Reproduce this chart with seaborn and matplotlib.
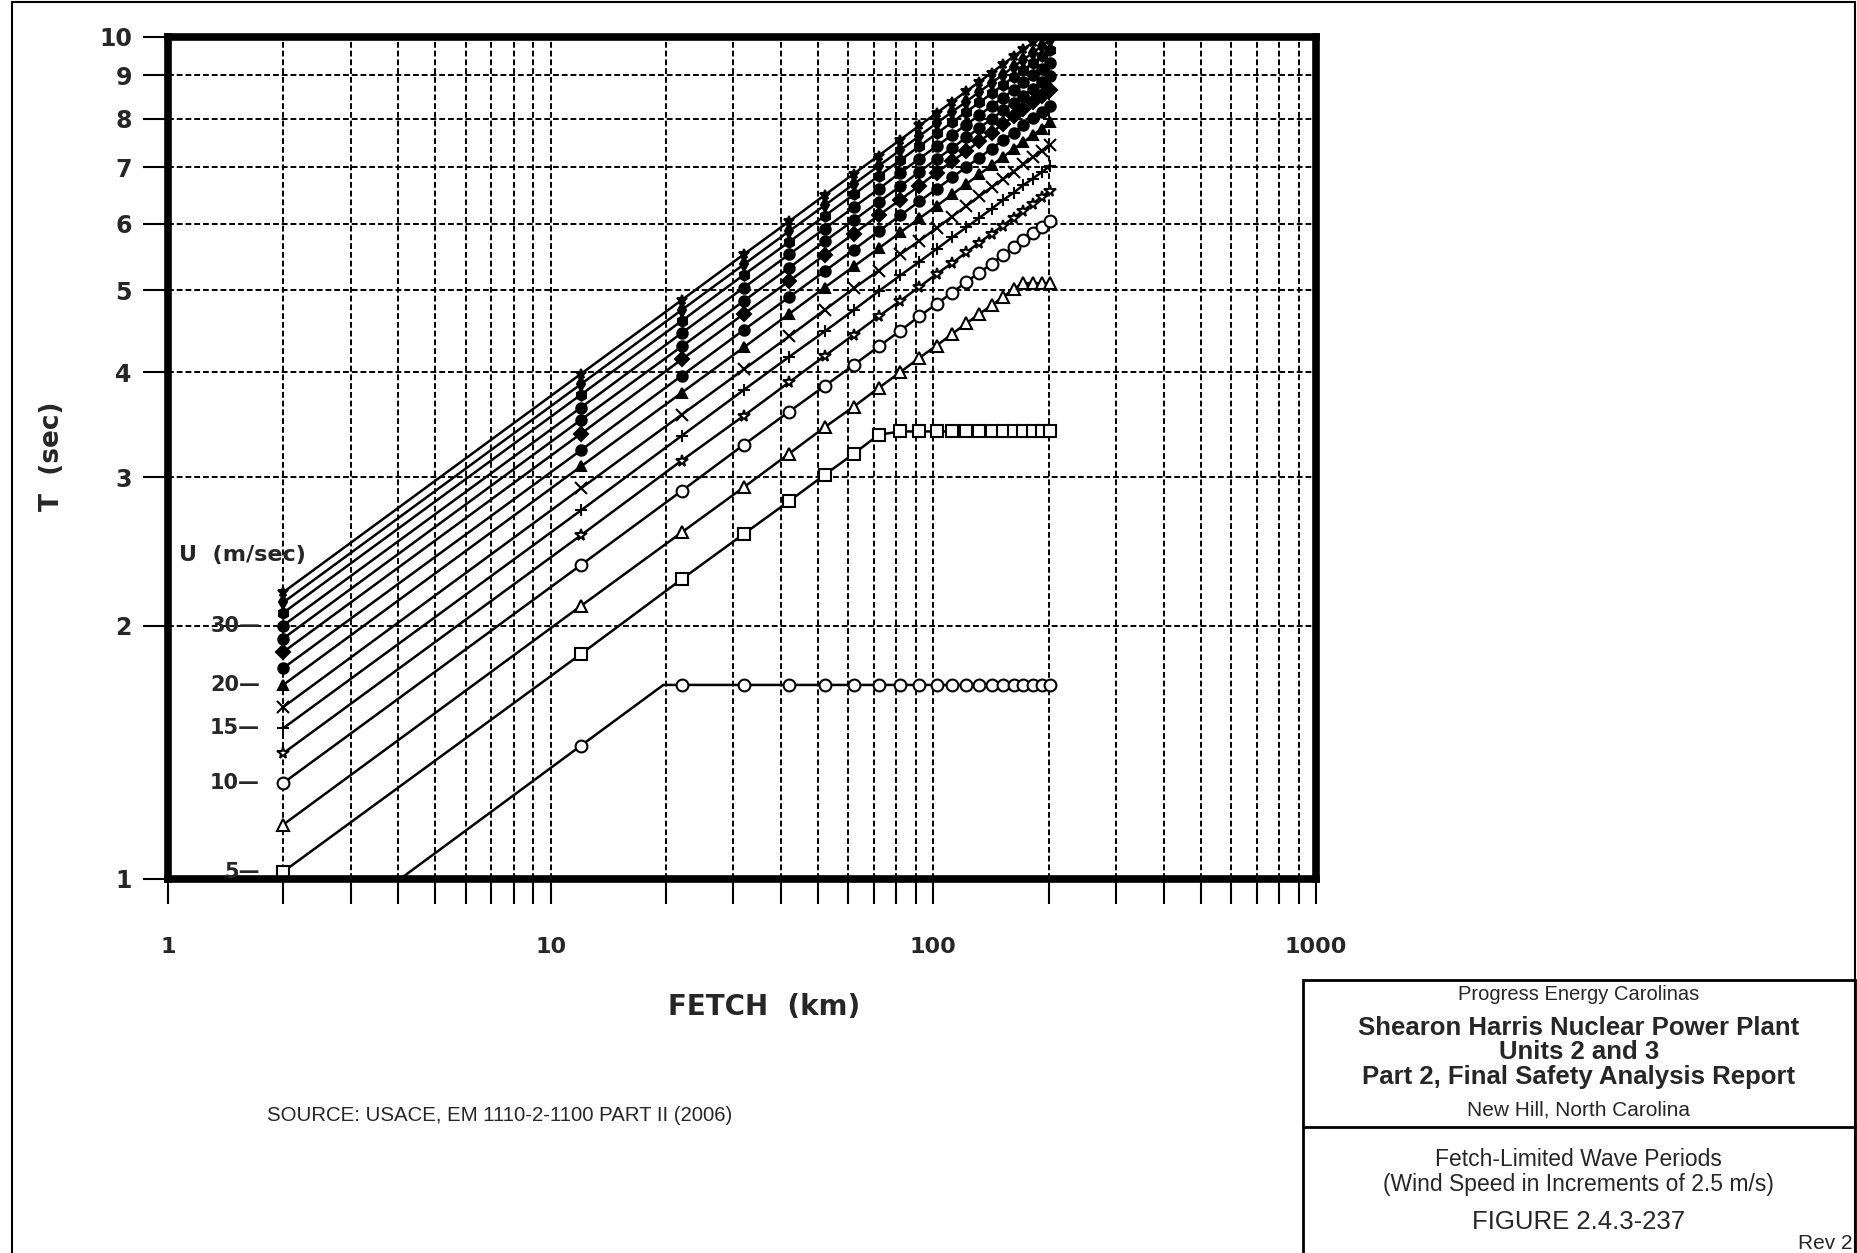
import numpy as np
import pandas as pd
import seaborn as sns
import matplotlib.pyplot as plt
from matplotlib import ticker
from matplotlib.patches import Rectangle
from matplotlib.lines import Line2D

# fetch positions of the computed points (km)
FETCH = [2, 12, 22, 32, 42, 52, 62, 72, 82, 92, 102, 112, 122, 132, 142, 152, 162, 172, 182, 192, 202]

# wind speeds (m/s), increments of 2.5
U_SPEEDS = [2.5, 5, 7.5, 10, 12.5, 15, 17.5, 20, 22.5, 25, 27.5, 30, 32.5, 35, 37.5]

# wave period T (sec), one list per wind speed
T_U2_5 = [0.79, 1.44, 1.70, 1.70, 1.70, 1.70, 1.70, 1.70, 1.70, 1.70, 1.70, 1.70, 1.70, 1.70, 1.70, 1.70, 1.70, 1.70, 1.70, 1.70, 1.70]
T_U5 = [1.02, 1.85, 2.27, 2.57, 2.81, 3.02, 3.20, 3.37, 3.40, 3.40, 3.40, 3.40, 3.40, 3.40, 3.40, 3.40, 3.40, 3.40, 3.40, 3.40, 3.40]
T_U7_5 = [1.16, 2.11, 2.58, 2.92, 3.20, 3.44, 3.64, 3.83, 4.00, 4.16, 4.30, 4.44, 4.57, 4.69, 4.80, 4.91, 5.02, 5.10, 5.10, 5.10, 5.10]
T_U10 = [1.30, 2.36, 2.89, 3.28, 3.59, 3.85, 4.08, 4.29, 4.48, 4.66, 4.82, 4.97, 5.12, 5.25, 5.38, 5.51, 5.63, 5.74, 5.85, 5.95, 6.05]
T_U12_5 = [1.41, 2.56, 3.14, 3.55, 3.89, 4.18, 4.43, 4.66, 4.86, 5.05, 5.23, 5.39, 5.55, 5.70, 5.84, 5.97, 6.10, 6.22, 6.34, 6.46, 6.57]
T_U15 = [1.51, 2.74, 3.36, 3.81, 4.17, 4.47, 4.74, 4.99, 5.21, 5.41, 5.60, 5.78, 5.94, 6.10, 6.25, 6.40, 6.53, 6.67, 6.79, 6.91, 7.03]
T_U17_5 = [1.60, 2.91, 3.56, 4.03, 4.41, 4.74, 5.03, 5.28, 5.52, 5.73, 5.93, 6.12, 6.30, 6.47, 6.63, 6.78, 6.92, 7.06, 7.20, 7.33, 7.45]
T_U20 = [1.70, 3.09, 3.78, 4.28, 4.69, 5.04, 5.34, 5.61, 5.86, 6.09, 6.30, 6.50, 6.69, 6.87, 7.04, 7.20, 7.36, 7.50, 7.65, 7.78, 7.92]
T_U22_5 = [1.78, 3.23, 3.96, 4.49, 4.91, 5.27, 5.59, 5.88, 6.14, 6.38, 6.60, 6.81, 7.01, 7.19, 7.37, 7.54, 7.70, 7.86, 8.01, 8.15, 8.29]
T_U25 = [1.86, 3.38, 4.14, 4.69, 5.13, 5.51, 5.84, 6.14, 6.41, 6.66, 6.90, 7.12, 7.32, 7.52, 7.70, 7.88, 8.05, 8.21, 8.37, 8.52, 8.66]
T_U27_5 = [1.93, 3.51, 4.29, 4.86, 5.32, 5.72, 6.06, 6.37, 6.65, 6.92, 7.16, 7.38, 7.60, 7.80, 7.99, 8.18, 8.35, 8.52, 8.68, 8.84, 8.99]
T_U30 = [2.00, 3.63, 4.45, 5.04, 5.52, 5.92, 6.28, 6.60, 6.90, 7.17, 7.42, 7.65, 7.87, 8.08, 8.28, 8.47, 8.65, 8.83, 9.00, 9.16, 9.31]
T_U32_5 = [2.07, 3.76, 4.60, 5.22, 5.71, 6.13, 6.50, 6.84, 7.14, 7.42, 7.68, 7.92, 8.15, 8.36, 8.57, 8.77, 8.96, 9.14, 9.31, 9.48, 9.64]
T_U35 = [2.13, 3.87, 4.74, 5.37, 5.88, 6.31, 6.69, 7.03, 7.34, 7.63, 7.90, 8.15, 8.38, 8.61, 8.82, 9.02, 9.22, 9.40, 9.58, 9.75, 9.92]
T_U37_5 = [2.19, 3.98, 4.87, 5.52, 6.04, 6.49, 6.88, 7.23, 7.55, 7.85, 8.12, 8.38, 8.62, 8.85, 9.07, 9.28, 9.48, 9.67, 9.85, 10.03, 10.20]

T_SERIES = [T_U2_5, T_U5, T_U7_5, T_U10, T_U12_5, T_U15, T_U17_5, T_U20,
            T_U22_5, T_U25, T_U27_5, T_U30, T_U32_5, T_U35, T_U37_5]

# where a curve levels off between two plotted points (no marker there)
KINK_U = [2.5]
KINK_FETCH = [19.7]
KINK_T = [1.70]

# wind speeds that get a label next to the first point
U_LABELED = [5, 10, 15, 20, 30]

X_TICKS = [1, 10, 100, 1000]
Y_TICKS = [1, 2, 3, 4, 5, 6, 7, 8, 9, 10]

MARKERS = ['o', 's', '^', 'o', '*', '+', 'x', '^', 'o', 'D', 'o', 'o', 'h', 'd', '*']
FILLED = [False, False, False, False, False, False, False, True, True, True, True, True, True, True, True]

rows = []
for u, ts in zip(U_SPEEDS, T_SERIES):
    for f, t in zip(FETCH, ts):
        rows.append((u, f, t, True))
for u, f, t in zip(KINK_U, KINK_FETCH, KINK_T):
    rows.append((u, f, t, False))
df = pd.DataFrame(rows, columns=['U', 'fetch', 'T', 'mark'])
df = df.sort_values(['U', 'fetch']).reset_index(drop=True)

sns.set_theme(style='white')
plt.rcParams['font.family'] = ['DejaVu Sans']

fig = plt.figure(figsize=(18.58, 12.53), dpi=100)
ax = fig.add_axes([0.0904, 0.2985, 0.6179, 0.672])

for u, m, filled in zip(U_SPEEDS, MARKERS, FILLED):
    sub = df[df['U'] == u].reset_index(drop=True)
    every = list(np.flatnonzero(sub['mark'].to_numpy()))
    sns.lineplot(data=sub, x='fetch', y='T', ax=ax, color='black', lw=1.8,
                 marker=m, markersize=7.5 if filled else 8.5, markevery=every,
                 markerfacecolor='black' if filled else 'white',
                 markeredgecolor='black', markeredgewidth=1.5, legend=False,
                 sort=False, estimator=None)

ax.set_xscale('log')
ax.set_yscale('log')
ax.set_xlim(1, 1000)
ax.set_ylim(1, 10)

ax.xaxis.set_major_locator(ticker.FixedLocator(X_TICKS))
ax.xaxis.set_major_formatter(ticker.FixedFormatter([str(v) for v in X_TICKS]))
ax.xaxis.set_minor_locator(ticker.LogLocator(base=10, subs=range(2, 10)))
ax.xaxis.set_minor_formatter(ticker.NullFormatter())
ax.yaxis.set_major_locator(ticker.FixedLocator(Y_TICKS))
ax.yaxis.set_major_formatter(ticker.FixedFormatter([str(v) for v in Y_TICKS]))
ax.yaxis.set_minor_locator(ticker.NullLocator())

ax.grid(True, which='both', color='black', lw=1.4, ls=(0, (3, 1.5)))
ax.tick_params(axis='both', which='both', direction='out', length=18, width=1.5,
               color='black', left=True, bottom=True)
ax.tick_params(axis='y', pad=8, labelsize=17)
ax.tick_params(axis='x', pad=24, labelsize=16)
for lab in ax.get_xticklabels() + ax.get_yticklabels():
    lab.set_fontweight('bold')

for sp in ax.spines.values():
    sp.set_visible(True)
    sp.set_color('black')
    sp.set_linewidth(5.5)

ax.set_xlabel('FETCH  (km)', fontsize=20, fontweight='bold')
ax.set_ylabel('T  (sec)', fontsize=19, fontweight='bold')
ax.xaxis.set_label_coords(0.519, -0.135)
ax.yaxis.set_label_coords(-0.09, 0.502)

ax.text(0.0653, 0.385, 'U  (m/sec)', transform=ax.transAxes, ha='center', va='center',
        fontsize=16, fontweight='bold')
for u in U_LABELED:
    t0 = T_SERIES[U_SPEEDS.index(u)][0]
    ax.text(1.74, t0, f'{u}\u2014', ha='right', va='center', fontsize=15, fontweight='bold')

# page border and title block
fig.patches.append(Rectangle((0.0065, -0.01), 0.9919, 1.0084, transform=fig.transFigure,
                             fill=False, lw=1.5, ec='black'))
fig.patches.append(Rectangle((0.7013, -0.01), 0.2971, 0.2279, transform=fig.transFigure,
                             fill=False, lw=2, ec='black'))
fig.lines.append(Line2D([0.7013, 0.9984], [0.1006, 0.1006], transform=fig.transFigure,
                        color='black', lw=2))

arial = 'Liberation Sans'
cx = 0.8498
fig.text(cx, 0.2067, 'Progress Energy Carolinas', ha='center', va='center', family=arial, fontsize=14.5)
fig.text(cx, 0.1796, 'Shearon Harris Nuclear Power Plant', ha='center', va='center', family=arial,
         fontsize=18.5, fontweight='bold')
fig.text(cx, 0.1604, 'Units 2 and 3', ha='center', va='center', family=arial,
         fontsize=18.5, fontweight='bold')
fig.text(cx, 0.1405, 'Part 2, Final Safety Analysis Report', ha='center', va='center', family=arial,
         fontsize=18.5, fontweight='bold')
fig.text(cx, 0.1141, 'New Hill, North Carolina', ha='center', va='center', family=arial, fontsize=15)
fig.text(cx, 0.0750, 'Fetch-Limited Wave Periods', ha='center', va='center', family=arial, fontsize=16.5)
fig.text(cx, 0.0543, '(Wind Speed in Increments of 2.5 m/s)', ha='center', va='center',
         family=arial, fontsize=16.5)
fig.text(cx, 0.0247, 'FIGURE 2.4.3-237', ha='center', va='center', family=arial, fontsize=18.5)
fig.text(0.9968, 0.0072, 'Rev 2', ha='right', va='center', family=arial, fontsize=15)

fig.text(0.2691, 0.1101, 'SOURCE: USACE, EM 1110-2-1100 PART II (2006)', ha='center', va='center',
         family=arial, fontsize=14.7)

fig.savefig('out.png', dpi=100)
